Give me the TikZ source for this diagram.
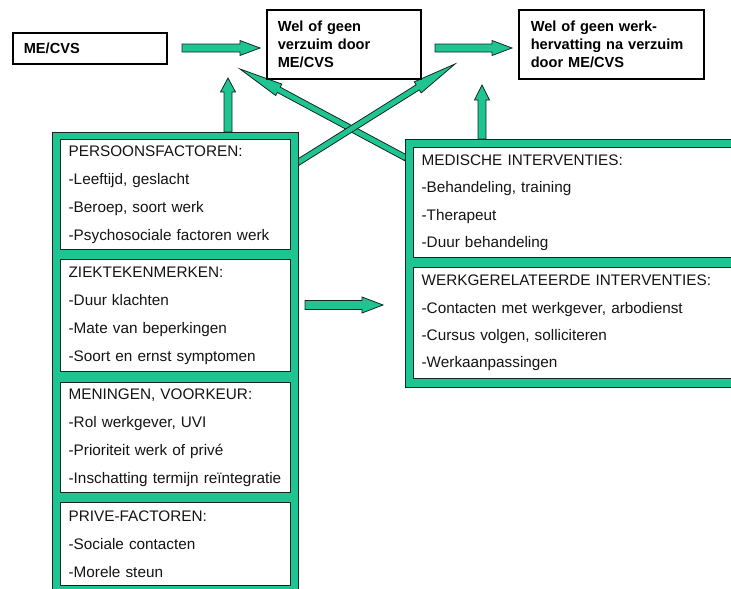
\documentclass[tikz,border=0pt]{standalone}
\usepackage{fontspec}
\setmainfont{Liberation Sans}
\usetikzlibrary{calc,backgrounds}
\definecolor{tealg}{RGB}{30,196,146}
\definecolor{edgec}{RGB}{20,40,30}
\definecolor{inkc}{RGB}{20,20,20}
\begin{document}
\begin{tikzpicture}[x=1pt,y=-1pt,
  topbox/.style={draw=black, line width=1.6pt, fill=white, anchor=north west,
    inner xsep=11pt, inner ysep=0pt, align=left, text=black,
    font=\bfseries\fontsize{14.6}{18.3}\selectfont},
  framebox/.style={draw=edgec, line width=0.9pt, fill=tealg, anchor=north west, inner sep=0pt},
  ibox/.style={draw=edgec, line width=1.3pt, fill=white, anchor=north west,
    inner xsep=8pt, inner ysep=0pt, align=left, text=inkc},
  ltext/.style={font=\fontsize{15.3}{28}\selectfont},
  rtext/.style={font=\fontsize{15.3}{27.3}\selectfont},
  blockarrow/.style n args={3}{to path={
    let \p1=($(\tikztotarget)-(\tikztostart)$),
        \n1={atan2(\y1,\x1)},
        \n2={veclen(\x1,\y1)-#3} in
    ($(\tikztostart)+(\n1+90:#1)$) -- ++(\n1:\n2*1pt) -- ++(\n1+90:#2-#1) -- (\tikztotarget)
    -- ($(\tikztostart)+(\n1:\n2*1pt)+(\n1-90:#2)$) -- ++(\n1+90:#2-#1)
    -- ($(\tikztostart)+(\n1-90:#1)$) -- cycle}},
  arrowfill/.style={fill=tealg, draw=edgec, line width=0.8pt, line join=miter},
]
\useasboundingbox (0,0) rectangle (731,589);

% top boxes
\node[topbox, text width=132pt, minimum height=31pt] (mecvs) at (12,32) {ME/CVS};
\node[topbox, text width=132pt, minimum height=69pt] (verzuim) at (266,9) {Wel of geen\\verzuim door\\ME/CVS};
\node[topbox, inner xsep=12pt, text width=161pt, minimum height=69pt] (hervat) at (518,9) {Wel of geen werk-\\hervatting na verzuim\\door ME/CVS};

% left panel
\node[framebox, minimum width=246pt, minimum height=460pt] (lframe) at (52,132) {};
\node[ibox, ltext, text width=214pt, minimum height=110pt] (pers) at (60,139)
  {PERSOONSFACTOREN:\\-Leeftijd, geslacht\\-Beroep, soort werk\\-Psychosociale factoren werk};
\node[ibox, ltext, text width=214pt, minimum height=112pt] (ziek) at (60,259)
  {ZIEKTEKENMERKEN:\\-Duur klachten\\-Mate van beperkingen\\-Soort en ernst symptomen};
\node[ibox, ltext, text width=214pt, minimum height=110pt] (mening) at (60,382)
  {MENINGEN, VOORKEUR:\\-Rol werkgever, UVI\\-Prioriteit werk of privé\\-Inschatting termijn reïntegratie};
\node[ibox, ltext, text width=214pt, minimum height=83pt] (prive) at (60,502)
  {PRIVE-FACTOREN:\\-Sociale contacten\\-Morele steun};

% right panel
\node[framebox, minimum width=345pt, minimum height=248pt] (rframe) at (405,139) {};
\node[ibox, rtext, text width=324pt, minimum height=110pt] (med) at (413,147)
  {MEDISCHE INTERVENTIES:\\-Behandeling, training\\-Therapeut\\-Duur behandeling};
\node[ibox, rtext, text width=324pt, minimum height=111pt] (werk) at (413,267)
  {WERKGERELATEERDE INTERVENTIES:\\-Contacten met werkgever, arbodienst\\-Cursus volgen, solliciteren\\-Werkaanpassingen};

% arrow end points
\coordinate (a1s) at (182,48);
\coordinate (a1e) at (260,48);
\coordinate (a2s) at (435,48);
\coordinate (a2e) at (512,48);
\coordinate (u1e) at (228,78);
\coordinate (u1s) at (lframe.north -| u1e);
\coordinate (u2e) at (482,85);
\coordinate (u2s) at (rframe.north -| u2e);
\coordinate (ms) at (305,305);
\coordinate (me) at (383,305);
\coordinate (das) at (406,158);
\coordinate (dae) at (240,69);
\coordinate (dbs) at (297,163);
\coordinate (dbe) at (455,64);

\begin{scope}[on background layer]
\draw[arrowfill, blockarrow={4pt}{7.5pt}{20pt}] (a1s) to (a1e);
\draw[arrowfill, blockarrow={4pt}{7.5pt}{20pt}] (a2s) to (a2e);
\draw[arrowfill, blockarrow={4pt}{7.5pt}{14pt}] (u1s) to (u1e);
\draw[arrowfill, blockarrow={4pt}{7.5pt}{15pt}] (u2s) to (u2e);
\draw[arrowfill, blockarrow={4.5pt}{8pt}{21pt}] (ms) to (me);
\draw[arrowfill, blockarrow={3pt}{6.5pt}{44pt}] (das) to (dae);
\draw[arrowfill, blockarrow={3pt}{6.5pt}{44pt}] (dbs) to (dbe);
\end{scope}
\end{tikzpicture}
\end{document}
